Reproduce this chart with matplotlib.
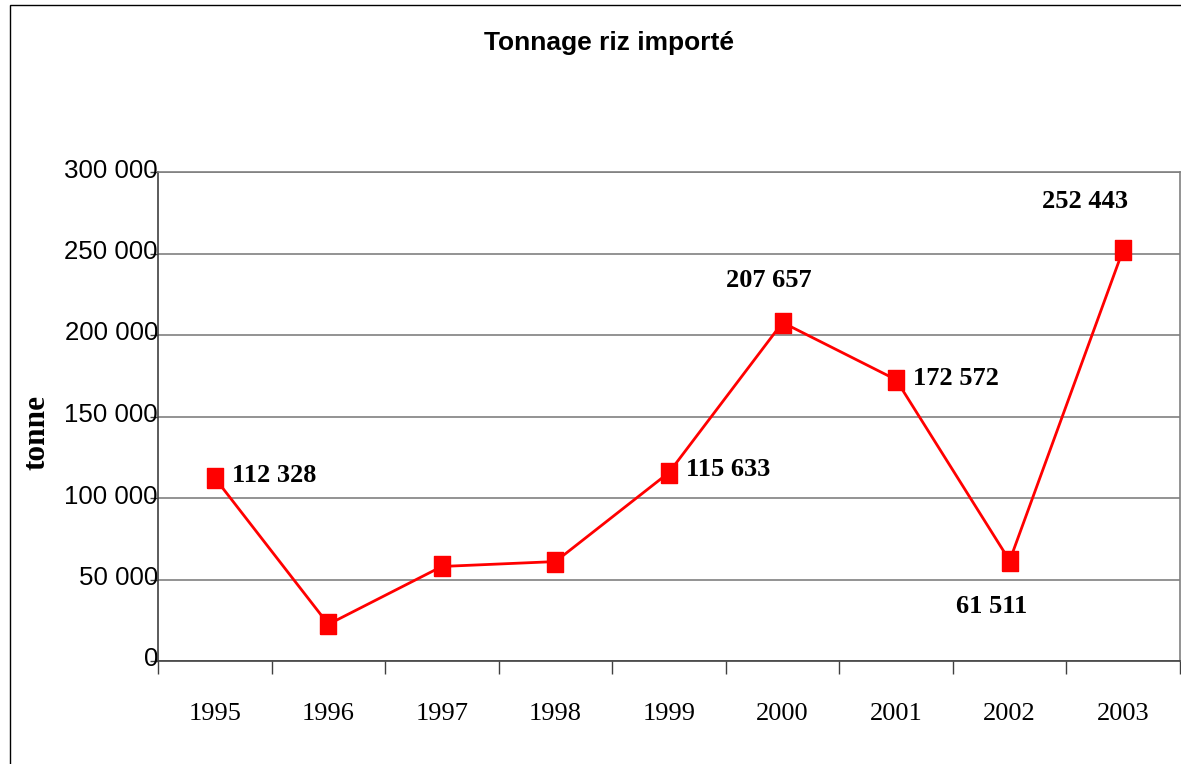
import matplotlib
matplotlib.use("Agg")
import matplotlib.pyplot as plt
import matplotlib.transforms as mtransforms
from matplotlib.patches import Rectangle

# data
years = ["1995", "1996", "1997", "1998", "1999", "2000", "2001", "2002", "2003"]
tonnage = [112328, 22500, 58000, 61000, 115633, 207657, 172572, 61511, 252443]
yticks = [0, 50000, 100000, 150000, 200000, 250000, 300000]
ytick_labels = ["0", "50 000", "100 000", "150 000", "200 000", "250 000", "300 000"]
# which points carry a value label, and where (pixel offsets from the point)
labelled = {0: (17, 2, "left"), 4: (17, 3, "left"), 5: (-14, 42, "center"),
            6: (17, 1, "left"), 7: (-18, -46, "center"), 8: (-38, 48, "center")}

W, H = 1181, 764
fig = plt.figure(figsize=(W / 100, H / 100), dpi=100)
ax = fig.add_axes([158 / W, 1 - 661 / H, (1180 - 158) / W, (661 - 172) / H])

# outer chart border (left and top visible)
fig.patches.append(Rectangle((10 / W, -0.05), 1.2, 1 - 5 / H + 0.05,
                             transform=fig.transFigure, fill=False,
                             edgecolor="black", linewidth=1.0))

x = list(range(len(years)))
# custom slightly tall square marker
mk = [(-0.38, -0.5), (0.38, -0.5), (0.38, 0.5), (-0.38, 0.5), (-0.38, -0.5)]
ax.plot(x, tonnage, color="#ff0000", linewidth=2.0, marker=mk,
        markersize=15, markerfacecolor="#ff0000", markeredgecolor="#ff0000",
        zorder=3, clip_on=False)

for i, (dx, dy, ha) in labelled.items():
    v = tonnage[i]
    txt = f"{v:,}".replace(",", " ")
    ax.annotate(txt, (x[i], v), xytext=(dx, dy), textcoords="offset pixels",
                ha=ha, va="center", fontsize=19, fontweight="bold",
                family="Liberation Serif", zorder=4)

ax.set_xlim(-0.5, len(years) - 0.5)
ax.set_ylim(0, 300000)

ax.set_yticks(yticks)
ax.set_yticklabels(ytick_labels, family="Liberation Sans", fontsize=18.6)
ax.tick_params(axis="y", direction="out", length=6, width=1, color="#404040",
               pad=-6)
# excel puts the value labels a touch above the gridline
shift = mtransforms.ScaledTranslation(0, 4 / 100, fig.dpi_scale_trans)
for lab in ax.get_yticklabels():
    lab.set_verticalalignment("center_baseline")
    lab.set_transform(lab.get_transform() + shift)

ax.set_xticks([i - 0.5 for i in range(len(years) + 1)])
ax.set_xticklabels([])
ax.set_xticks(x, minor=True)
ax.set_xticklabels(years, minor=True, family="Liberation Serif", fontsize=19)
ax.tick_params(axis="x", which="major", direction="out", length=9, width=1,
               color="#404040")
ax.tick_params(axis="x", which="minor", length=0, pad=30)

ax.grid(axis="y", color="#808080", linewidth=1.2)
ax.set_axisbelow(True)
for side in ["top", "right"]:
    ax.spines[side].set_color("#808080")
    ax.spines[side].set_linewidth(1.2)
for side in ["left", "bottom"]:
    ax.spines[side].set_color("#404040")
    ax.spines[side].set_linewidth(1.2)

fig.text(609 / W, 1 - 43 / H, "Tonnage riz importé", ha="center", va="center",
         fontsize=19, fontweight="bold", family="Liberation Sans")
fig.text(37 / W, 1 - 432 / H, "tonne", ha="center", va="center", rotation=90,
         fontsize=22.5, fontweight="bold", family="Liberation Serif")

fig.savefig("out.png", dpi=100)
